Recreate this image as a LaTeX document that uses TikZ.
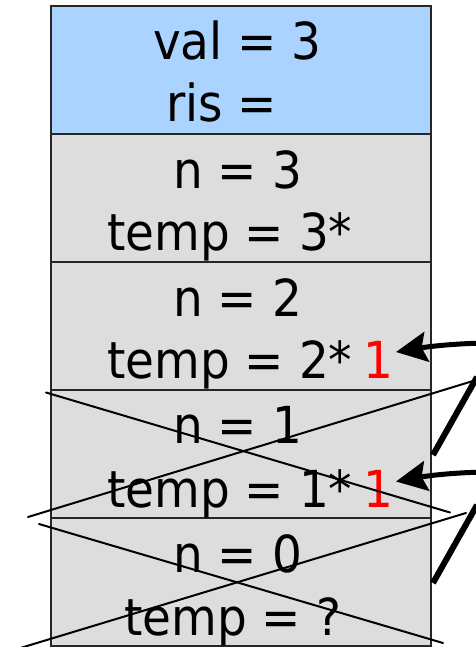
\documentclass[tikz,border=0pt]{standalone}
\usepackage{fontspec}
\setmainfont{DejaVu Sans}[FakeStretch=0.92]
\usetikzlibrary{arrows.meta}
\definecolor{frameblue}{RGB}{170,212,255}
\definecolor{framegray}{RGB}{221,221,221}
\begin{document}
\begin{tikzpicture}[x=1pt,y=-1pt,
  frame/.style={draw=black!85, line width=2pt, minimum width=380pt, minimum height=128pt, inner sep=0pt, fill=framegray},
  txt/.style={anchor=base west, inner sep=0pt, font=\fontsize{51}{60}\selectfont},
  redtxt/.style={txt, text=red},
  cross/.style={line width=2pt, line cap=round},
  thickln/.style={line width=6pt},
  curvearrow/.style={line width=5pt, -{Stealth[length=31pt,width=30pt,inset=5pt]}}]
\useasboundingbox (0,0) rectangle (475,647);
% frames
\node[frame, fill=frameblue] (f0) at (241,70) {};
\node[frame] (f1) at (241,198) {};
\node[frame] (f2) at (241,326) {};
\node[frame] (f3) at (241,454) {};
\node[frame] (f4) at (241,582) {};
% texts
\node[txt] (t0a) at (153,60) {val = 3};
\node[txt] (t0b) at (166,122) {ris =};
\node[txt] (t1a) at (173,188) {n = 3};
\node[txt] (t1b) at (107,250) {temp = 3*};
\node[txt] (t2a) at (173,316) {n = 2};
\node[txt] (t2b) at (107,378) {temp = 2*};
\node[redtxt] (r2) at (363,378) {1};
\node[txt] (t3a) at (173,443) {n = 1};
\node[txt] (t3b) at (107,507) {temp = 1*};
\node[redtxt] (r1) at (363,507) {1};
\node[txt] (t4a) at (173,572) {n = 0};
\node[txt] (t4b) at (124,635) {temp = ?};
% crosses
\coordinate (c1a) at (46,392.5);
\coordinate (c1b) at (450,512.5);
\coordinate (c1c) at (28,517);
\coordinate (c1d) at (473,381);
\coordinate (c2a) at (39,524);
\coordinate (c2b) at (443,643);
\coordinate (c2c) at (22,647.5);
\coordinate (c2d) at (466,513);
\draw[cross] (c1a) -- (c1b);
\draw[cross] (c1c) -- (c1d);
\draw[cross] (c2a) -- (c2b);
\draw[cross] (c2c) -- (c2d);
% return arrows
\coordinate (a1s) at (433,455);
\coordinate (a1m) at (477,377);
\coordinate (a1c) at (492,343);
\coordinate (tip2) at (396,352);
\coordinate (a2s) at (433,583);
\coordinate (a2m) at (477,505);
\coordinate (a2c) at (492,472);
\coordinate (tip1) at (396,481.5);
\draw[thickln] (a1s) -- (a1m);
\draw[curvearrow] (a1c) .. controls (462,343) and (432,346) .. (tip2);
\draw[thickln] (a2s) -- (a2m);
\draw[curvearrow] (a2c) .. controls (462,472) and (432,475) .. (tip1);
\end{tikzpicture}
\end{document}
